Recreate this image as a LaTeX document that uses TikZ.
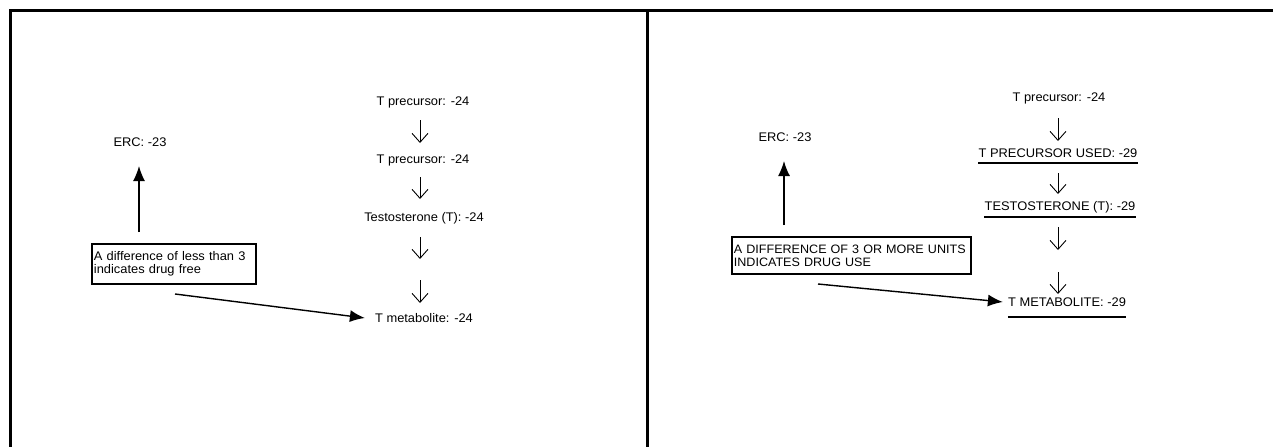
\documentclass[tikz,border=0pt]{standalone}
\usepackage{fontspec}
\setmainfont{Liberation Sans}[FakeStretch=1.03]
\usetikzlibrary{arrows.meta}
\begin{document}
\begin{tikzpicture}[x=1pt,y=-1pt,
  lbl/.style={font=\fontsize{12.5}{13}\selectfont, inner sep=0pt},
  notebox/.style={draw, line width=1.8pt, font=\fontsize{12.5}{13}\selectfont, align=left, inner xsep=2pt, inner ysep=0pt, anchor=north west},
  bigarrow/.style={line width=1.4pt, -{Latex[length=15pt,width=12pt]}},
  steparrow/.style={line width=0.9pt, -{Straight Barb[length=9pt,width=16pt,line width=0.9pt]}},
  uline/.style={line width=1.8pt},
  frame/.style={line width=3pt}]
\useasboundingbox (0,0) rectangle (1275,447);
% frame
\draw[frame] (10,460) -- (10,10) -- (1273,10);
\draw[frame] (647,10) -- (647,460);

% ---------- left panel ----------
\node[lbl] (lerc) at (140,142) {ERC: -23};
\node[notebox, minimum width=164pt, minimum height=40pt, text width=160pt] (lbox) at (91,243) {A difference of less than 3\\indicates drug free};
\coordinate (lup) at (139,232);
\coordinate (lerct) at (139,166);
\draw[bigarrow] (lup) -- (lerct);

\node[lbl] (lp1) at (423,102) {T precursor: -24};
\node[lbl] (lp2) at (423,160) {T precursor: -24};
\node[lbl] (lt) at (424,218) {Testosterone (T): -24};
\node[lbl] (lm) at (424,318) {T metabolite: -24};
\draw[steparrow] (420,120) -- (420,143);
\draw[steparrow] (420,177) -- (420,199);
\draw[steparrow] (420,237) -- (420,259);
\draw[steparrow] (420,280) -- (420,303);
\coordinate (lfrom) at (175,294);
\draw[bigarrow] (lfrom) -- ([xshift=-10pt]lm.west);

% ---------- right panel ----------
\node[lbl] (rerc) at (785,137) {ERC: -23};
\node[notebox, minimum width=239pt, minimum height=37pt, text width=235pt, font=\fontsize{12.2}{13}\selectfont] (rbox) at (731,236) {A DIFFERENCE OF 3 OR MORE UNITS\\INDICATES DRUG USE};
\coordinate (rup) at (784,225);
\coordinate (rercb) at (784,161);
\draw[bigarrow] (rup) -- (rercb);

\node[lbl] (rp1) at (1059,98) {T precursor: -24};
\node[lbl] (rp2) at (1058,153) {T PRECURSOR USED: -29};
\node[lbl] (rt) at (1060,207) {TESTOSTERONE (T): -29};
\node[lbl] (rm) at (1067,302) {T METABOLITE: -29};
\draw[uline] ([yshift=-5pt]rp2.south west) -- ([yshift=-5pt]rp2.south east);
\draw[uline] ([yshift=-4pt]rt.south west) -- ([yshift=-4pt]rt.south east);
\draw[uline] ([yshift=-10pt]rm.south west) -- ([yshift=-10pt]rm.south east);
\draw[steparrow] (1058,118) -- (1058,141);
\draw[steparrow] (1058,173) -- (1058,194);
\draw[steparrow] (1058,227) -- (1058,250);
\draw[steparrow] (1058,272) -- (1058,294);
\coordinate (rfrom) at (818,284);
\draw[bigarrow] (rfrom) -- ([xshift=-5pt]rm.west);
\end{tikzpicture}
\end{document}
